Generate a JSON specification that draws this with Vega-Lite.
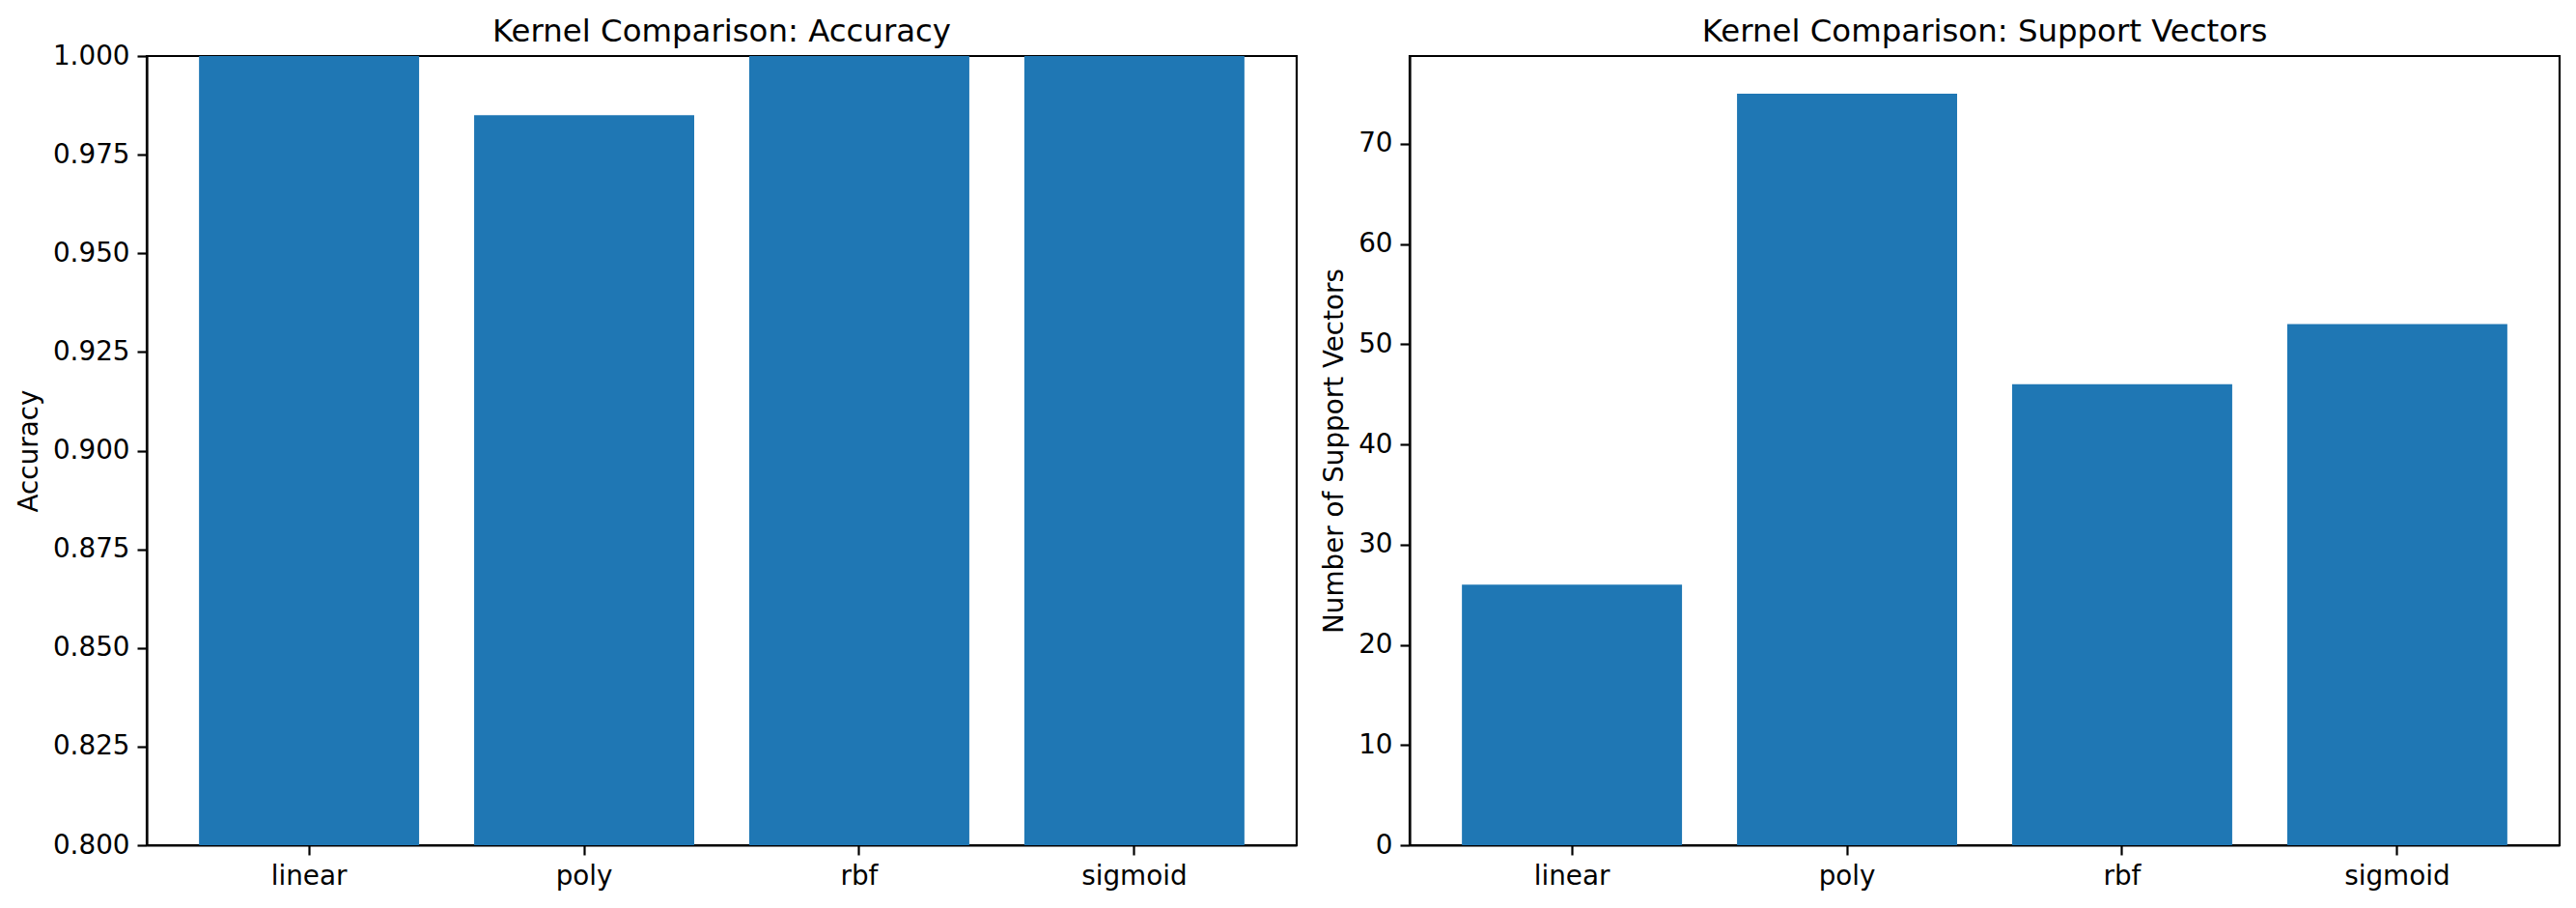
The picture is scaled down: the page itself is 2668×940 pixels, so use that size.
{
  "$schema": "https://vega.github.io/schema/vega-lite/v6.json",
  "background": "white",
  "padding": {"left": 15, "top": 15, "right": 5, "bottom": 5},
  "spacing": 22,
  "data": {"values": [
    {"kernel": "linear", "accuracy": 1.0, "support_vectors": 26},
    {"kernel": "poly", "accuracy": 0.985, "support_vectors": 75},
    {"kernel": "rbf", "accuracy": 1.0, "support_vectors": 46},
    {"kernel": "sigmoid", "accuracy": 1.0, "support_vectors": 52}
  ]},
  "config": {
    "font": "DejaVu Sans",
    "view": {"stroke": "black", "strokeWidth": 2.2},
    "axis": {
      "domainColor": "black", "domainWidth": 2.2,
      "tickColor": "black", "tickWidth": 2.2, "tickSize": 10,
      "labelColor": "black", "labelFontSize": 27.8, "labelFont": "DejaVu Sans",
      "titleColor": "black", "titleFontSize": 27.8, "titleFontWeight": "normal", "titleFont": "DejaVu Sans",
      "grid": false, "zindex": 1, "labelPadding": 8
    },
    "title": {"fontSize": 32.4, "fontWeight": "normal", "font": "DejaVu Sans", "color": "black", "anchor": "middle", "baseline": "alphabetic"}
  },
  "hconcat": [
    {
      "width": 1191, "height": 817,
      "title": {"text": "Kernel Comparison: Accuracy", "offset": -5},
      "mark": {"type": "bar", "color": "#1f77b4", "clip": true},
      "encoding": {
        "x": {"field": "kernel", "type": "nominal", "sort": null,
              "scale": {"paddingInner": 0.2, "paddingOuter": 0.19},
              "axis": {"title": null, "labelAngle": 0}},
        "y": {"field": "accuracy", "type": "quantitative",
              "scale": {"domain": [0.8, 1.0], "nice": false, "zero": false},
              "axis": {"title": "Accuracy", "format": ".3f", "titlePadding": 10,
                       "values": [0.8, 0.825, 0.85, 0.875, 0.9, 0.925, 0.95, 0.975, 1.0]}}
      }
    },
    {
      "width": 1191, "height": 817,
      "title": {"text": "Kernel Comparison: Support Vectors", "offset": 9},
      "mark": {"type": "bar", "color": "#1f77b4", "clip": true},
      "encoding": {
        "x": {"field": "kernel", "type": "nominal", "sort": null,
              "scale": {"paddingInner": 0.2, "paddingOuter": 0.19},
              "axis": {"title": null, "labelAngle": 0}},
        "y": {"field": "support_vectors", "type": "quantitative",
              "scale": {"domain": [0, 78.75], "nice": false},
              "axis": {"title": "Number of Support Vectors", "titlePadding": 10,
                       "values": [0, 10, 20, 30, 40, 50, 60, 70]}}
      }
    }
  ]
}
